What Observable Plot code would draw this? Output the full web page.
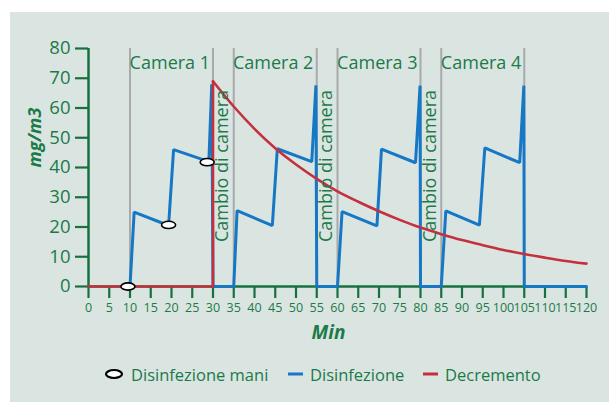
<!DOCTYPE html>
<html>
<head>
<meta charset="utf-8">
<script src="https://cdn.jsdelivr.net/npm/d3@7"></script>
<script src="https://cdn.jsdelivr.net/npm/@observablehq/plot@0.6"></script>
<style>
  html, body { margin: 0; padding: 0; background: #ffffff; }
  body { width: 609px; height: 402px; position: relative; overflow: hidden; font-family: "Open Sans", sans-serif; }
  #panel { position: absolute; left: 10px; top: 12px; width: 599px; height: 390px; background: #dae5e2; }
  #chart { position: absolute; left: 0; top: 0; }
  #legend { position: absolute; left: 0; top: 350px; width: 599px; height: 24px; color: #1b7a48; font-size: 16.5px; }
  .item { position: absolute; top: 0; display: flex; align-items: center; height: 24px; white-space: nowrap; }
  .item svg { margin-right: 7px; }
</style>
</head>
<body>
<div id="panel">
  <div id="chart"></div>
  <div id="legend"></div>
</div>
<script>
// ---- data ----
const xTicks = [0, 5, 10, 15, 20, 25, 30, 35, 40, 45, 50, 55, 60, 65, 70, 75, 80, 85, 90, 95, 100, 105, 110, 115, 120];
const yTicks = [0, 10, 20, 30, 40, 50, 60, 70, 80];

// Disinfezione (blue)
const blueT = [10, 11, 19.3, 20.5, 29, 29.7, 30, 35, 35.8, 44.3, 45.5, 53.8, 54.8, 55, 60, 61.1, 69.5, 70.6, 78.8, 79.9, 80, 85, 86.1, 94.2, 95.5, 103.9, 104.9, 105, 120];
const blueV = [0, 25, 20.5, 46, 42, 68, 0, 0, 25.5, 20.5, 46.3, 42, 67.6, 0, 0, 25.2, 20.4, 46.2, 41.6, 67.5, 0, 0, 25.4, 20.6, 46.6, 41.6, 67.5, 0, 0];

// Decremento (red): flat at zero, then rise, then decay
const redRiseT = [0, 30, 30];
const redRiseV = [0, 0, 69];
const redT = [30, 35, 40, 45, 50, 55, 60, 65, 70, 75, 80, 85, 90, 95, 100, 105, 110, 115, 120];
const redV = [69, 60.5, 53, 46.5, 41, 36.2, 32, 28.5, 25.3, 22.4, 19.8, 17.6, 15.6, 13.9, 12.3, 10.9, 9.7, 8.6, 7.7];

// Disinfezione mani (ovals)
const handT = [9.5, 19.3, 28.6];
const handV = [0, 20.7, 41.8];

// room boundaries and labels
const boundaryT = [10, 30, 35, 55, 60, 80, 85, 105];
const roomNames = ["Camera 1", "Camera 2", "Camera 3", "Camera 4"];
const roomT = [19.6, 44.5, 69.6, 94.6];
const roomV = [75, 75, 75, 75];
const changeNames = ["Cambio di camera", "Cambio di camera", "Cambio di camera"];
const changeT = [32.3, 57.4, 82.4];
const changeV = [40.5, 40.5, 40.5];

const legendNames = ["Disinfezione mani", "Disinfezione", "Decremento"];

// ---- styling ----
const GREEN = "#1b7a48";
const AXIS = "#17703f";
const BLUE = "#1677c4";
const RED = "#c5303f";
const GRAY = "#a8aaa9";
const FONT = "'Open Sans', sans-serif";

const blue = blueT.map((t, i) => ({t, v: blueV[i]}));
const redRise = redRiseT.map((t, i) => ({t, v: redRiseV[i]}));
const red = redT.map((t, i) => ({t, v: redV[i]}));
const hands = handT.map((t, i) => ({t, v: handV[i]}));
const rooms = roomNames.map((n, i) => ({n, t: roomT[i], v: roomV[i]}));
const changes = changeNames.map((n, i) => ({n, t: changeT[i], v: changeV[i]}));

const ellipse = {
  draw(ctx) {
    const rx = 7, ry = 3.6, k = 0.5523;
    ctx.moveTo(rx, 0);
    ctx.bezierCurveTo(rx, ry * k, rx * k, ry, 0, ry);
    ctx.bezierCurveTo(-rx * k, ry, -rx, ry * k, -rx, 0);
    ctx.bezierCurveTo(-rx, -ry * k, -rx * k, -ry, 0, -ry);
    ctx.bezierCurveTo(rx * k, -ry, rx, -ry * k, rx, 0);
    ctx.closePath();
  }
};

const chart = Plot.plot({
  width: 599,
  height: 330,
  marginLeft: 78,
  marginRight: 23,
  marginTop: 36,
  marginBottom: 56,
  style: {background: "transparent", fontFamily: FONT, color: GREEN, overflow: "visible"},
  x: {domain: [0, 120]},
  y: {domain: [0, 80]},
  marks: [
    Plot.axisX({ticks: xTicks, tickSize: 12, tickPadding: 5, fontSize: 12.5, stroke: AXIS, strokeWidth: 2.2, fill: GREEN, label: null, tickFormat: d => String(d)}),
    Plot.axisY({ticks: yTicks, tickSize: 13, tickPadding: 5, fontSize: 18.5, stroke: AXIS, strokeWidth: 2.2, fill: GREEN, label: null, tickFormat: d => String(d)}),
    Plot.ruleY([0], {x1: 0, x2: 120, stroke: AXIS, strokeWidth: 2.5}),
    Plot.ruleX([0], {y1: 0, y2: 80, stroke: AXIS, strokeWidth: 2.5}),
    Plot.ruleX(boundaryT, {y1: 0, y2: 80, stroke: GRAY, strokeWidth: 2}),
    Plot.line(blue, {x: "t", y: "v", stroke: BLUE, strokeWidth: 3, strokeLinejoin: "miter"}),
    Plot.line(redRise, {x: "t", y: "v", stroke: RED, strokeWidth: 2.6}),
    Plot.line(red, {x: "t", y: "v", stroke: RED, strokeWidth: 2.6, curve: "catmull-rom"}),
    Plot.dot(hands, {x: "t", y: "v", symbol: ellipse, fill: "white", stroke: "black", strokeWidth: 1.6}),
    Plot.text(rooms, {x: "t", y: "v", text: "n", fill: GREEN, fontSize: 18}),
    Plot.text(changes, {x: "t", y: "v", text: "n", fill: GREEN, fontSize: 18, rotate: -90}),
    Plot.text(["Min"], {frameAnchor: "bottom", text: d => d, dy: 52, dx: -9, fill: GREEN, fontSize: 19, fontWeight: "bold", fontStyle: "italic"}),
    Plot.text(["mg/m3"], {frameAnchor: "left", text: d => d, dx: -53, rotate: -90, fill: GREEN, fontSize: 18, fontWeight: "bold", fontStyle: "italic"})
  ]
});
document.getElementById("chart").appendChild(chart);

// ---- legend ----
const legend = document.getElementById("legend");
const lefts = [94, 278, 413];
const icons = [
  `<svg width="20" height="12"><ellipse cx="10" cy="6" rx="8" ry="4" fill="white" stroke="black" stroke-width="2.2"/></svg>`,
  `<svg width="15" height="12"><line x1="0" y1="6" x2="15" y2="6" stroke="${BLUE}" stroke-width="3"/></svg>`,
  `<svg width="15" height="12"><line x1="0" y1="6" x2="15" y2="6" stroke="${RED}" stroke-width="3"/></svg>`
];
legendNames.forEach((name, i) => {
  const d = document.createElement("div");
  d.className = "item";
  d.style.left = lefts[i] + "px";
  d.innerHTML = icons[i] + `<span>${name}</span>`;
  legend.appendChild(d);
});
</script>
</body>
</html>
